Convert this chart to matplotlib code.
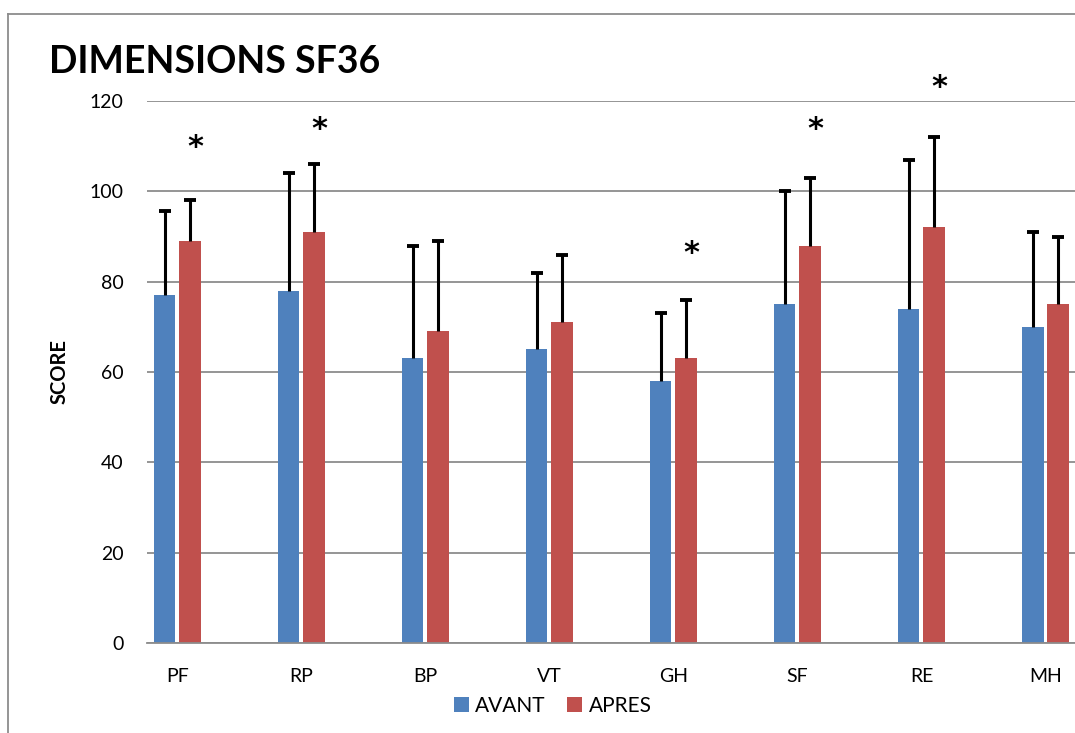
import numpy as np
import matplotlib.pyplot as plt
from matplotlib.lines import Line2D

# data
dimensions = ['PF', 'RP', 'BP', 'VT', 'GH', 'SF', 'RE', 'MH']
avant = [77, 78, 63, 65, 58, 75, 74, 70]
avant_top = [95.6, 104, 88, 82, 73, 100, 107, 91]
apres = [89, 91, 69, 71, 63, 88, 92, 75]
apres_top = [98, 106, 89, 86, 76, 103, 112, 90]
star_dims = ['PF', 'RP', 'GH', 'SF', 'RE']
star_y = [109.6, 113.6, 86.3, 113.6, 122.9]

plt.rcParams['font.family'] = ['Lato', 'DejaVu Sans']

fig = plt.figure(figsize=(10.75, 7.33), dpi=100)
ax = fig.add_axes([0.1367, 0.1228, 0.8633, 0.7394])

x = np.arange(len(dimensions))
w = 0.17
off = 0.101
cap = 0.045
blue = '#4F81BD'
red = '#C0504D'

ax.bar(x - off, avant, w, color=blue, zorder=2, label='AVANT')
ax.bar(x + off, apres, w, color=red, zorder=2, label='APRES')

# upper-only error bars
for xs, lo, hi in [(x - off, avant, avant_top), (x + off, apres, apres_top)]:
    ax.vlines(xs, lo, hi, color='black', linewidth=2.2, zorder=3)
    ax.hlines(hi, xs - cap, xs + cap, color='black', linewidth=2.8, zorder=3)

# significance stars (slightly right of the APRES bar)
for d, sy in zip(star_dims, star_y):
    i = dimensions.index(d)
    ax.text(i + off + 0.045, sy, '*', ha='center', va='center', fontsize=22,
            family='DejaVu Sans', fontweight='bold', clip_on=False)

ax.set_xlim(-0.246, 7.238)
ax.set_ylim(0, 120)
ax.set_yticks(np.arange(0, 121, 20))
ax.set_xticks(x)
ax.set_xticklabels(dimensions)
ax.tick_params(axis='both', length=0, labelsize=14)
ax.tick_params(axis='y', pad=17)
ax.tick_params(axis='x', pad=18)
ax.grid(axis='y', color='#8c8c8c', linewidth=1.3, zorder=0)
for s in ['top', 'right', 'left']:
    ax.spines[s].set_visible(False)
ax.spines['bottom'].set_color('#8c8c8c')
ax.spines['bottom'].set_linewidth(1.3)

ax.set_ylabel('SCORE', fontsize=14.5, fontweight='bold')
ax.yaxis.set_label_coords(-0.083, 0.5)

fig.text(0.046, 0.915, 'DIMENSIONS SF36', fontsize=27, fontweight='bold',
         va='center', ha='left')

fig.legend(loc='center', bbox_to_anchor=(0.514, 0.037), ncol=2, frameon=False,
           fontsize=15, handlelength=0.75, handleheight=0.75, handletextpad=0.3,
           columnspacing=1.0)

# outer chart border
fig.add_artist(Line2D([0.0074, 0.0074], [0, 0.981], color='#8c8c8c', lw=1.3))
fig.add_artist(Line2D([0.0074, 1.0], [0.981, 0.981], color='#8c8c8c', lw=1.3))

fig.savefig('out.png', dpi=100)
